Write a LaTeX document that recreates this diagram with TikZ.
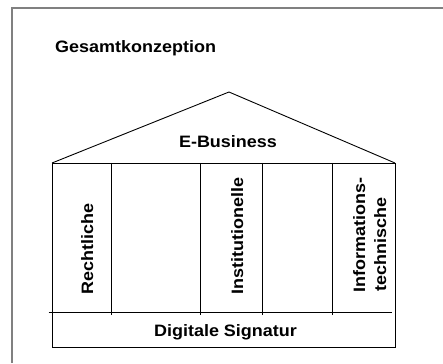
\documentclass[tikz,border=0pt]{standalone}
\usepackage{fontspec}
\setmainfont{Liberation Sans}[FakeStretch=1.09]
\begin{document}
\begin{tikzpicture}[x=1pt,y=-1pt,
  lab/.style={inner sep=0pt,font=\fontsize{16.5}{21}\selectfont\bfseries},
  vlab/.style={lab,rotate=90,anchor=base west},
  wall/.style={line width=0.9pt,black},
  frame/.style={line width=1.6pt,black!50}]
\useasboundingbox (0,0) rectangle (443,363);
% outer frame (left and top only)
\coordinate (ftl) at (12,8);
\coordinate (ftr) at (443,8);
\coordinate (fbl) at (12,363);
\draw[frame] (fbl) -- (ftl) -- (ftr);
% house corners
\coordinate (top) at (229,92);
\coordinate (el) at (52,163);
\coordinate (er) at (395,163);
\coordinate (bl) at (52,347);
\coordinate (br) at (395,347);
\coordinate (sl) at (48.5,312);
\coordinate (sr) at (392,312);
\draw[wall] (el) -- (top) -- (er);
\draw[wall] (el) -- (er);
\draw[wall] (el) -- (bl) -- (br) -- (er);
\draw[wall] (sl) -- (sr);
\foreach \x [count=\i] in {111,200,262,332}{
  \coordinate (d\i t) at (\x,163);
  \coordinate (d\i b) at (\x,315);
  \draw[wall] (d\i t) -- (d\i b);
}
% texts
\node[lab,anchor=base west] (title) at (55,53) {Gesamtkonzeption};
\node[lab,anchor=base] (ebiz) at (228,148) {E-Business};
\node[lab,anchor=base] (dsig) at (225.5,336) {Digitale Signatur};
\node[vlab] (recht) at (93,295) {Rechtliche};
\node[vlab] (inst) at (243,295) {Institutionelle};
\node[vlab] (info1) at (365,293) {Informations-};
\node[vlab] (info2) at (386,292) {technische};
\end{tikzpicture}
\end{document}
